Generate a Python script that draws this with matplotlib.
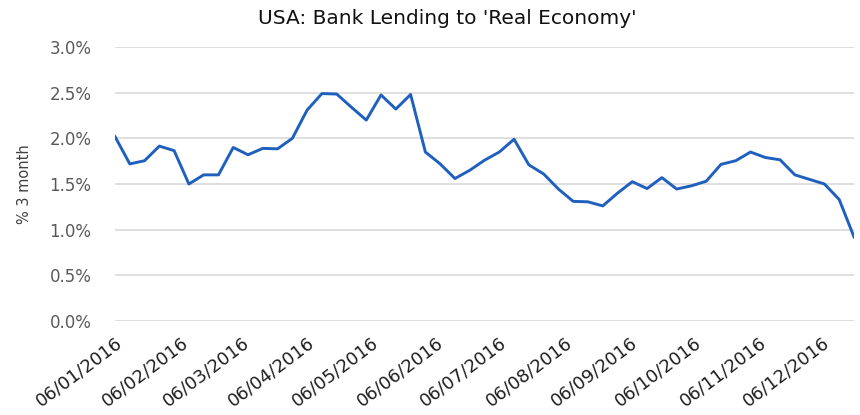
import matplotlib
matplotlib.use("Agg")
import matplotlib.pyplot as plt
import matplotlib.dates as mdates
from matplotlib.ticker import FuncFormatter
import pandas as pd

# Weekly observations (Wednesdays) through 2016
first_week = "2016-01-06"
lending_3m = [
    2.02, 1.72, 1.755, 1.915, 1.865, 1.50, 1.60, 1.60, 1.90, 1.82,
    1.89, 1.885, 2.00, 2.31, 2.49, 2.485, 2.34, 2.20, 2.475, 2.32,
    2.48, 1.85, 1.72, 1.56, 1.65, 1.76, 1.85, 1.99, 1.71, 1.61,
    1.445, 1.31, 1.305, 1.26, 1.40, 1.525, 1.45, 1.57, 1.445, 1.48,
    1.53, 1.715, 1.755, 1.85, 1.79, 1.765, 1.60, 1.55, 1.50, 1.33,
    0.92,
]
weeks = pd.date_range(first_week, periods=len(lending_3m), freq="7D")

title = "USA: Bank Lending to 'Real Economy'"
y_label = "% 3 month"
y_ticks = [0.0, 0.5, 1.0, 1.5, 2.0, 2.5, 3.0]

plt.rcParams["font.family"] = ["DejaVu Sans"]

fig = plt.figure(figsize=(8.6, 4.15), dpi=100)
ax = fig.add_axes([115 / 860, (415 - 321) / 415, (854 - 115) / 860, (321 - 47) / 415])

ax.plot(weeks, lending_3m, color="#1f5fbd", linewidth=2.1, solid_joinstyle="round")

ax.set_ylim(0, 3.0)
ax.set_yticks(y_ticks)
ax.yaxis.set_major_formatter(FuncFormatter(lambda v, _: f"{v:.1f}%"))
ax.set_xlim(weeks[0], weeks[-1])

ax.xaxis.set_major_locator(mdates.MonthLocator(bymonthday=6))
ax.xaxis.set_major_formatter(mdates.DateFormatter("%d/%m/%Y"))

ax.grid(axis="y", color="#d9d9d9", linewidth=1.2)
ax.set_axisbelow(True)
for s in ax.spines.values():
    s.set_visible(False)
ax.tick_params(axis="both", length=0)
ax.tick_params(axis="y", labelsize=12, labelcolor="#595959", pad=17)
ax.tick_params(axis="x", labelsize=13, labelcolor="#1f1f1f", pad=9)
for lbl in ax.get_xticklabels():
    lbl.set_rotation(37)
    lbl.set_ha("right")
    lbl.set_va("top")
    lbl.set_rotation_mode("anchor")

fig.text(0.52, 1 - 18 / 415, title, ha="center", va="center", fontsize=14.5,
         color="#111111")
fig.text(0.029, (415 - 184) / 415, y_label, rotation=90, ha="center", va="center",
         fontsize=10.5, color="#404040")

fig.savefig("out.png", dpi=100)
